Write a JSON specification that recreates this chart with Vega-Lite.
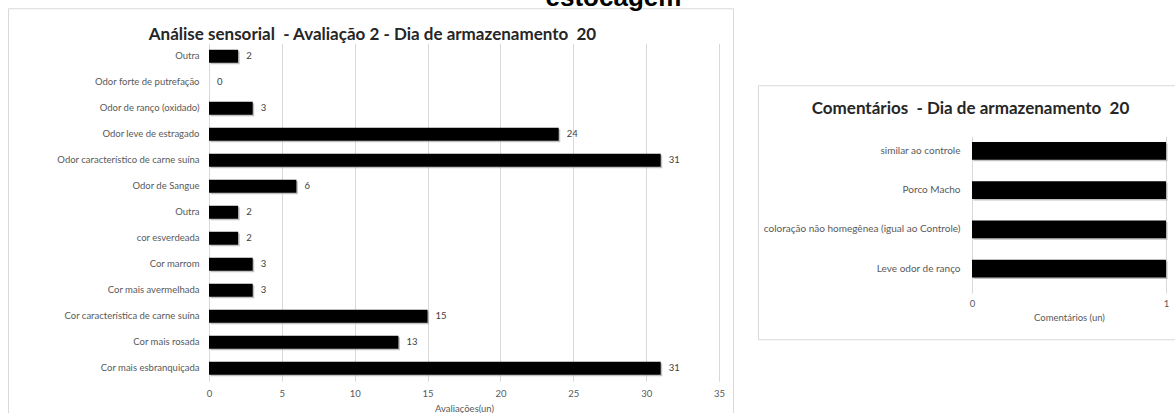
{
  "$schema": "https://vega.github.io/schema/vega-lite/v6.json",
  "background": "white",
  "padding": {"left": 7, "top": -16, "right": -6, "bottom": -4},
  "title": {
    "text": "estocagem",
    "anchor": "start",
    "dx": 538,
    "offset": -3,
    "font": "Liberation Sans",
    "fontSize": 26,
    "fontWeight": "bold",
    "color": "#000000"
  },
  "hconcat": [
    {
      "width": 725,
      "height": 408,
      "title": {
        "text": "Análise sensorial\u00a0 - Avaliação 2 - Dia de armazenamento\u00a0 20",
        "frame": "group",
        "anchor": "middle",
        "dx": 2,
        "offset": -36,
        "font": "Lato",
        "fontSize": 17,
        "fontWeight": "bold",
        "color": "#262626"
      },
      "data": {
        "values": [
          {"categoria": "Outra", "avaliacoes": 2},
          {"categoria": "Odor forte de putrefação", "avaliacoes": 0},
          {"categoria": "Odor de ranço (oxidado)", "avaliacoes": 3},
          {"categoria": "Odor leve de estragado", "avaliacoes": 24},
          {"categoria": "Odor característico de carne suína", "avaliacoes": 31},
          {"categoria": "Odor de Sangue", "avaliacoes": 6},
          {"categoria": "Outra ", "avaliacoes": 2},
          {"categoria": "cor esverdeada", "avaliacoes": 2},
          {"categoria": "Cor marrom", "avaliacoes": 3},
          {"categoria": "Cor mais avermelhada", "avaliacoes": 3},
          {"categoria": "Cor característica de carne suína", "avaliacoes": 15},
          {"categoria": "Cor mais rosada", "avaliacoes": 13},
          {"categoria": "Cor mais esbranquiçada", "avaliacoes": 31}
        ]
      },
      "encoding": {
        "y": {
          "field": "categoria",
          "type": "nominal",
          "sort": null,
          "scale": {"range": [35, 373], "paddingInner": 0.5, "paddingOuter": 0.25},
          "axis": {
            "title": null,
            "offset": -201,
            "domain": false,
            "ticks": false,
            "grid": false,
            "labelPadding": 10,
            "labelFont": "Lato",
            "labelFontSize": 9.5,
            "labelColor": "#595959",
            "labelLimit": 0
          }
        },
        "x": {
          "field": "avaliacoes",
          "type": "quantitative",
          "scale": {"domain": [0, 35], "range": [201, 711], "nice": false},
          "axis": {
            "title": "Avaliações(un)",
            "values": [0, 5, 10, 15, 20, 25, 30, 35],
            "offset": -35,
            "domain": false,
            "ticks": false,
            "grid": true,
            "gridColor": "#d9d9d9",
            "labelPadding": 7,
            "labelFlush": false,
            "labelFont": "Lato",
            "labelFontSize": 9.5,
            "labelColor": "#595959",
            "titleFont": "Lato",
            "titleFontSize": 9.5,
            "titleFontWeight": "normal",
            "titleColor": "#595959",
            "titlePadding": 6
          }
        }
      },
      "layer": [
        {"mark": {"type": "bar", "color": "#9a9a9a", "opacity": 0.6, "xOffset": 1.5, "yOffset": 1.5}},
        {"mark": {"type": "bar", "color": "#000000"}},
        {
          "mark": {"type": "text", "align": "left", "baseline": "middle", "dx": 8, "font": "Lato", "fontSize": 9.5, "color": "#404040"},
          "encoding": {"text": {"field": "avaliacoes", "type": "quantitative"}}
        }
      ],
      "view": {"stroke": "#d9d9d9", "strokeWidth": 1}
    },
    {
      "width": 425,
      "height": 254,
      "title": {
        "text": "Comentários\u00a0 - Dia de armazenamento\u00a0 20",
        "frame": "group",
        "anchor": "middle",
        "offset": -33,
        "font": "Lato",
        "fontSize": 17,
        "fontWeight": "bold",
        "color": "#262626"
      },
      "data": {
        "values": [
          {"comentario": "similar ao controle", "comentarios": 1},
          {"comentario": "Porco Macho", "comentarios": 1},
          {"comentario": "coloração não homegênea (igual ao Controle)", "comentarios": 1},
          {"comentario": "Leve odor de ranço", "comentarios": 1}
        ]
      },
      "encoding": {
        "y": {
          "field": "comentario",
          "type": "nominal",
          "sort": null,
          "scale": {"range": [46, 203], "paddingInner": 0.55, "paddingOuter": 0.275},
          "axis": {
            "title": null,
            "offset": -214,
            "domain": false,
            "ticks": false,
            "grid": false,
            "labelPadding": 12,
            "labelFont": "Lato",
            "labelFontSize": 10,
            "labelColor": "#595959",
            "labelLimit": 0
          }
        },
        "x": {
          "field": "comentarios",
          "type": "quantitative",
          "scale": {"domain": [0, 1], "range": [214, 408], "nice": false},
          "axis": {
            "title": "Comentários (un)",
            "values": [0, 1],
            "format": "d",
            "offset": -51,
            "domain": false,
            "ticks": false,
            "grid": true,
            "gridColor": "#d9d9d9",
            "labelPadding": 10,
            "labelFlush": false,
            "labelFont": "Lato",
            "labelFontSize": 9.5,
            "labelColor": "#595959",
            "titleFont": "Lato",
            "titleFontSize": 9.5,
            "titleFontWeight": "normal",
            "titleColor": "#595959",
            "titlePadding": 5
          }
        }
      },
      "layer": [
        {"mark": {"type": "bar", "color": "#9a9a9a", "opacity": 0.6, "xOffset": 1.5, "yOffset": 1.5}},
        {"mark": {"type": "bar", "color": "#000000"}}
      ],
      "view": {"stroke": "#d9d9d9", "strokeWidth": 1}
    }
  ],
  "spacing": 23,
  "center": true,
  "config": {"view": {"stroke": "#d9d9d9"}}
}
